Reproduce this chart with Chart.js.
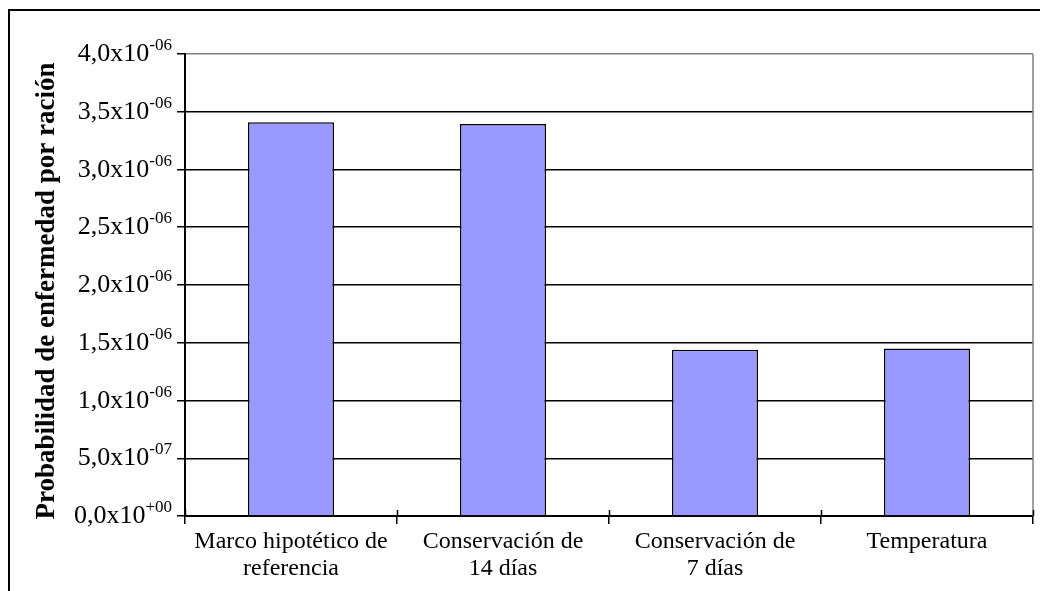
<!DOCTYPE html>
<html>
<head>
<meta charset="utf-8">
<script src="https://cdn.jsdelivr.net/npm/chart.js@4/dist/chart.umd.min.js"></script>
<style>
  html, body { margin: 0; padding: 0; background: #fff; }
  canvas { display: block; }
</style>
</head>
<body>
<canvas id="chart" width="1040" height="591"></canvas>
<script>
// Escenarios evaluados
const categories = [
  ['Marco hipotético de', 'referencia'],
  ['Conservación de', '14 días'],
  ['Conservación de', '7 días'],
  'Temperatura'
];
// Probabilidad de enfermedad por ración en cada escenario
const probability = [3.41e-6, 3.395e-6, 1.44e-6, 1.45e-6];
// Eje Y
const yMin = 0;
const yMax = 4.0e-6;
const yStep = 5.0e-7;
const yTitle = 'Probabilidad de enfermedad por ración';

const SERIF = '"Liberation Serif", "Times New Roman", serif';

// Splits a value into mantissa "4,0" and exponent "-06"
function sciParts(v) {
  const [m, e] = v.toExponential(1).split('e');
  const sign = e[0] === '-' ? '-' : '+';
  const digits = e.replace(/[+-]/, '').padStart(2, '0');
  return [m.replace('.', ','), sign + digits];
}

const decorations = {
  id: 'decorations',
  afterDraw(chart) {
    const ctx = chart.ctx;
    const area = chart.chartArea;
    const x = chart.scales.x;
    const y = chart.scales.y;
    ctx.save();

    // outer frame
    ctx.strokeStyle = '#000';
    ctx.lineWidth = 2;
    ctx.beginPath();
    ctx.moveTo(9, 591);
    ctx.lineTo(9, 10);
    ctx.lineTo(1040, 10);
    ctx.stroke();

    // right edge of the plot area
    ctx.strokeStyle = '#808080';
    ctx.lineWidth = 1.5;
    ctx.beginPath();
    ctx.moveTo(area.right, area.top);
    ctx.lineTo(area.right, area.bottom);
    ctx.stroke();

    // category tick marks continue slightly above the axis
    ctx.strokeStyle = '#000';
    ctx.lineWidth = 1.5;
    const half = (x.getPixelForValue(1) - x.getPixelForValue(0)) / 2;
    for (let i = 0; i <= categories.length; i++) {
      const px = Math.round(x.getPixelForValue(i) - half) + 0.5;
      ctx.beginPath();
      ctx.moveTo(px, area.bottom);
      ctx.lineTo(px, area.bottom - 6);
      ctx.stroke();
    }

    // y tick labels in scientific notation with superscript exponent
    ctx.fillStyle = '#000';
    ctx.textBaseline = 'alphabetic';
    const right = area.left - 13;
    y.ticks.forEach(t => {
      const py = y.getPixelForValue(t.value);
      const [mant, exp] = sciParts(t.value);
      ctx.font = '17px ' + SERIF;
      const ew = ctx.measureText(exp).width;
      ctx.textAlign = 'left';
      ctx.fillText(exp, right - ew, py - 4);
      ctx.font = '26px ' + SERIF;
      ctx.textAlign = 'right';
      ctx.fillText(mant + 'x10', right - ew, py + 7);
    });

    // y axis title
    ctx.font = 'bold 27px ' + SERIF;
    ctx.textAlign = 'center';
    ctx.textBaseline = 'middle';
    ctx.translate(47, (area.top + area.bottom) / 2 + 6);
    ctx.rotate(-Math.PI / 2);
    ctx.fillText(yTitle, 0, 0);

    ctx.restore();
  }
};

new Chart(document.getElementById('chart'), {
  type: 'bar',
  data: {
    labels: categories,
    datasets: [{
      data: probability,
      backgroundColor: '#9999FF',
      borderColor: '#000000',
      borderWidth: 1.5,
      categoryPercentage: 1.0,
      barPercentage: 0.406
    }]
  },
  options: {
    responsive: false,
    animation: false,
    devicePixelRatio: 1,
    layout: { padding: { left: 10, top: 54, right: 7, bottom: 0 } },
    plugins: {
      legend: { display: false },
      tooltip: { enabled: false }
    },
    scales: {
      x: {
        afterFit(s) { s.height = 75; },
        grid: {
          offset: true,
          drawOnChartArea: false,
          drawTicks: true,
          tickLength: 8,
          tickColor: '#000',
          lineWidth: 1.5
        },
        border: { display: true, color: '#000', width: 2 },
        ticks: {
          color: '#000',
          font: { family: SERIF, size: 24, lineHeight: 1.1 },
          padding: 5,
          maxRotation: 0,
          autoSkip: false
        }
      },
      y: {
        min: yMin,
        max: yMax,
        afterFit(s) { s.width = 175; },
        grid: {
          color: c => (c.tick && c.tick.value >= yMax - 1e-12) ? '#808080' : '#000',
          lineWidth: 1.5,
          drawTicks: true,
          tickLength: 8,
          tickColor: '#000'
        },
        border: { display: true, color: '#000', width: 2 },
        ticks: {
          display: false,
          stepSize: yStep
        }
      }
    }
  },
  plugins: [decorations]
});
</script>
</body>
</html>
